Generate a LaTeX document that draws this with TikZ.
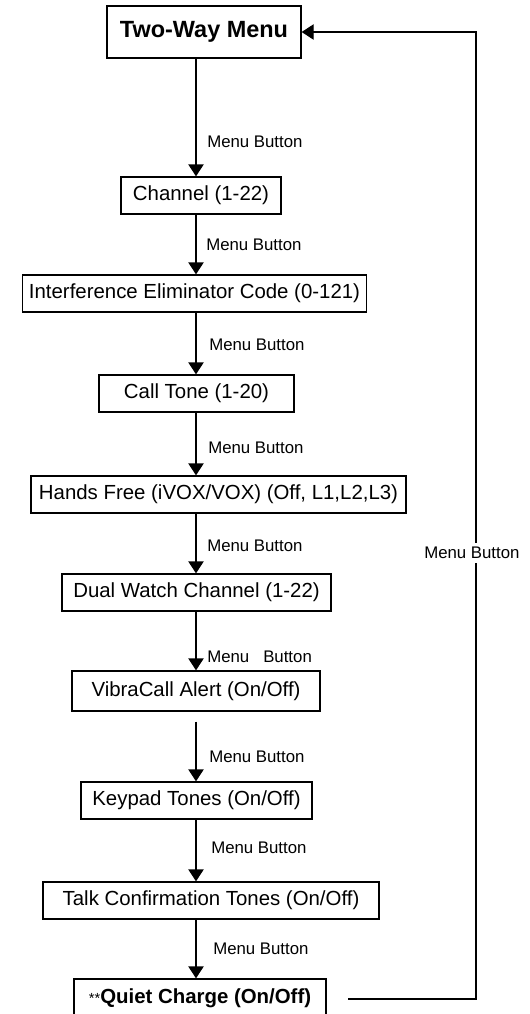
\documentclass[tikz,border=0pt]{standalone}
\usepackage{fontspec}
\setmainfont{Liberation Sans}
\usetikzlibrary{arrows.meta}
\newcommand\boxfont{\fontsize{15.3}{18}\selectfont}
\newcommand\lblfont{\fontsize{12.6}{15}\selectfont}
\newcommand\ttlfont{\fontsize{17.6}{21}\selectfont\bfseries}
\begin{document}
\begin{tikzpicture}[x=0.75pt,y=-0.75pt,
  stepbox/.style={draw, line width=1pt, inner sep=0pt, minimum height=27.75pt, font=\boxfont},
  lbl/.style={anchor=west, font=\lblfont, inner sep=0pt},
  flow/.style={line width=1pt, -{Triangle[width=11.5pt,length=9pt]}}]
\useasboundingbox (0,0) rectangle (529,1014);
\coordinate (col) at (196,0);
\node[stepbox, minimum width=145.5pt, minimum height=39pt, font=\ttlfont] (top) at (204,32) {Two-Way Menu};
\node[stepbox, minimum width=120pt] (chan) at (201,195.5) {Channel (1-22)};
\node[stepbox, minimum width=258pt] (iec) at (194.5,293.5) {Interference Eliminator Code (0-121)};
\node[stepbox, minimum width=146.25pt] (call) at (196.5,393.5) {Call Tone (1-20)};
\node[stepbox, minimum width=281.25pt] (hands) at (218.5,494.5) {Hands Free (iVOX/VOX) (Off, L1,L2,L3)};
\node[stepbox, minimum width=201.75pt] (dual) at (196.5,592.5) {Dual Watch Channel (1-22)};
\node[stepbox, minimum width=186pt, minimum height=30pt] (vibra) at (196,691) {VibraCall Alert (On/Off)};
\node[stepbox, minimum width=173.25pt] (keypad) at (196.5,800.5) {Keypad Tones (On/Off)};
\node[stepbox, minimum width=252pt] (talk) at (211,900.5) {Talk Confirmation Tones (On/Off)};
\node[stepbox, minimum width=189pt, minimum height=28.5pt] (quiet) at (200,998) {{\fontsize{11}{12}\selectfont **}\textbf{Quiet Charge (On/Off)}\hspace{8pt}};

\draw[flow] (top.south -| col) -- (chan.north -| col);
\draw[flow] (chan.south -| col) -- (iec.north -| col);
\draw[flow] (iec.south -| col) -- (call.north -| col);
\draw[flow] (call.south -| col) -- (hands.north -| col);
\draw[flow] (hands.south -| col) -- (dual.north -| col);
\draw[flow] (dual.south -| col) -- (vibra.north -| col);
\draw[flow, shorten <=7.5pt] (vibra.south -| col) -- (keypad.north -| col);
\draw[flow] (keypad.south -| col) -- (talk.north -| col);
\draw[flow] (talk.south -| col) -- (quiet.north -| col);

\node[lbl] (l1) at (207,142) {Menu Button};
\node[lbl] (l2) at (206,245) {Menu Button};
\node[lbl] (l3) at (209,345) {Menu Button};
\node[lbl] (l4) at (208,448) {Menu Button};
\node[lbl] (l5) at (207,546) {Menu Button};
\node[lbl] (l6) at (207,657) {Menu\ \ \ Button};
\node[lbl] (l7) at (209,757) {Menu Button};
\node[lbl] (l8) at (211,848) {Menu Button};
\node[lbl] (l9) at (213,949) {Menu Button};

\coordinate (ret) at (348,999);
\coordinate (corner) at (476,32);
\draw[flow] (ret) -| (corner) -- (top.east);
\node[lbl, fill=white, inner sep=3pt] (lr) at (420,553) {Menu Button};
\end{tikzpicture}
\end{document}
